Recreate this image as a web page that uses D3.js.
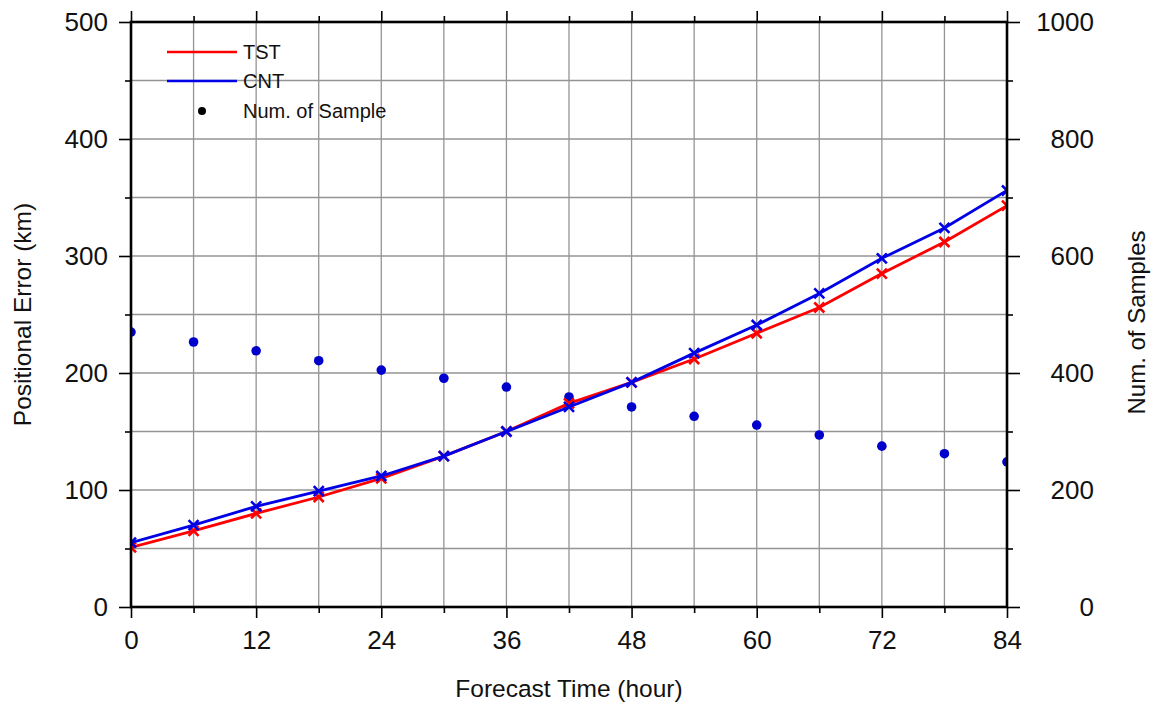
<!DOCTYPE html>
<html>
<head>
<meta charset="utf-8">
<script src="https://cdn.jsdelivr.net/npm/d3@7"></script>
<style>
  html, body { margin: 0; padding: 0; background: #fff; }
  svg { display: block; font-family: "Liberation Sans", Arial, Helvetica, sans-serif; }
</style>
</head>
<body>
<div id="chart"></div>
<script>
// Forecast hours and the two error series (km)
const forecastHours = [0, 6, 12, 18, 24, 30, 36, 42, 48, 54, 60, 66, 72, 78, 84];
const tstError = [51, 65, 80, 94, 110, 129, 150, 174, 192, 212, 234, 256, 285, 312, 343];
const cntError = [55, 70, 86, 99, 112, 129, 150, 171, 192, 217, 241, 268, 298, 324, 356];
const sampleCount = [470, 453, 438, 421, 405, 391, 376, 359, 342, 326, 311, 294, 275, 262, 248];

const xTicks = [0, 12, 24, 36, 48, 60, 72, 84];
const yTicks = [0, 100, 200, 300, 400, 500];
const y2Ticks = [0, 200, 400, 600, 800, 1000];

const seriesList = [
  { name: 'TST', values: tstError, color: '#ff0000' },
  { name: 'CNT', values: cntError, color: '#0000e6' }
];

/**
 * Line chart of positional error with sample counts on a second axis
 */
class ForecastErrorChart {
  constructor(containerId, options = {}) {
    this.containerId = containerId;
    this.options = {
      width: 1154,
      height: 707,
      left: 131,
      right: 1007,
      top: 22,
      bottom: 607,
      ...options
    };
    this.svg = null;
  }

  render() {
    const o = this.options;
    this.svg = d3.select(`#${this.containerId}`)
      .append('svg')
      .attr('width', o.width)
      .attr('height', o.height);

    const x = d3.scaleLinear().domain([0, 84]).range([o.left, o.right]);
    const y = d3.scaleLinear().domain([0, 500]).range([o.bottom, o.top]);
    const y2 = d3.scaleLinear().domain([0, 1000]).range([o.bottom, o.top]);

    this.svg.append('defs').append('clipPath')
      .attr('id', 'plot-clip')
      .append('rect')
      .attr('x', o.left)
      .attr('y', o.top)
      .attr('width', o.right - o.left)
      .attr('height', o.bottom - o.top);

    // Grid
    const grid = this.svg.append('g').attr('class', 'grid')
      .attr('stroke', '#949494')
      .attr('stroke-width', 1.3);
    grid.selectAll('line.gx')
      .data(d3.range(6, 84, 6))
      .enter().append('line')
      .attr('x1', d => x(d)).attr('x2', d => x(d))
      .attr('y1', o.top).attr('y2', o.bottom);
    grid.selectAll('line.gy')
      .data(d3.range(50, 500, 50))
      .enter().append('line')
      .attr('x1', o.left).attr('x2', o.right)
      .attr('y1', d => y(d)).attr('y2', d => y(d));

    // Sample counts (right axis)
    const plot = this.svg.append('g').attr('clip-path', 'url(#plot-clip)');
    plot.selectAll('circle.sample')
      .data(forecastHours.map((h, i) => ({ h, n: sampleCount[i] })))
      .enter().append('circle')
      .attr('class', 'sample')
      .attr('cx', d => x(d.h))
      .attr('cy', d => y2(d.n))
      .attr('r', 4.8)
      .attr('fill', '#0000cc');

    // Error lines with x markers
    const line = d3.line().x(d => x(d.h)).y(d => y(d.v));
    seriesList.forEach(s => {
      const pts = forecastHours.map((h, i) => ({ h, v: s.values[i] }));
      plot.append('path')
        .datum(pts)
        .attr('d', line)
        .attr('fill', 'none')
        .attr('stroke', s.color)
        .attr('stroke-width', 2.8);
      plot.selectAll(null)
        .data(pts)
        .enter().append('path')
        .attr('transform', d => `translate(${x(d.h)},${y(d.v)})`)
        .attr('d', 'M-5,-5L5,5M-5,5L5,-5')
        .attr('stroke', s.color)
        .attr('stroke-width', 2.6);
    });

    this.drawAxes(x, y, y2);
    this.drawLegend();
  }

  /**
   * Frame, ticks and tick labels on all four sides
   */
  drawAxes(x, y, y2) {
    const o = this.options;
    const tickFont = 26;

    const styleAxis = g => {
      g.select('.domain').remove();
      g.selectAll('.tick line').attr('stroke', '#000').attr('stroke-width', 1.6);
      g.selectAll('.tick text').attr('fill', '#111').attr('font-size', tickFont)
        .attr('font-family', '"Liberation Sans", Arial, Helvetica, sans-serif');
    };

    // minor ticks first, majors with labels on top
    this.svg.append('g')
      .attr('transform', `translate(0,${o.bottom})`)
      .call(d3.axisBottom(x).tickValues(d3.range(6, 84, 12)).tickSize(6).tickFormat(''))
      .call(styleAxis);
    this.svg.append('g')
      .attr('transform', `translate(0,${o.bottom})`)
      .call(d3.axisBottom(x).tickValues(xTicks).tickSize(11).tickPadding(13))
      .call(styleAxis);

    this.svg.append('g')
      .attr('transform', `translate(0,${o.top})`)
      .call(d3.axisTop(x).tickValues(d3.range(6, 84, 12)).tickSize(6).tickFormat(''))
      .call(styleAxis);
    this.svg.append('g')
      .attr('transform', `translate(0,${o.top})`)
      .call(d3.axisTop(x).tickValues(xTicks).tickSize(11).tickFormat(''))
      .call(styleAxis);

    this.svg.append('g')
      .attr('transform', `translate(${o.left},0)`)
      .call(d3.axisLeft(y).tickValues(d3.range(50, 500, 100)).tickSize(6).tickFormat(''))
      .call(styleAxis);
    this.svg.append('g')
      .attr('transform', `translate(${o.left},0)`)
      .call(d3.axisLeft(y).tickValues(yTicks).tickSize(12).tickPadding(11))
      .call(styleAxis);

    this.svg.append('g')
      .attr('transform', `translate(${o.right},0)`)
      .call(d3.axisRight(y2).tickValues(d3.range(100, 1000, 200)).tickSize(6).tickFormat(''))
      .call(styleAxis);
    const right = this.svg.append('g')
      .attr('transform', `translate(${o.right},0)`)
      .call(d3.axisRight(y2).tickValues(y2Ticks).tickSize(13).tickFormat(d3.format('d')))
      .call(styleAxis);
    // right labels are right-aligned in the reference
    right.selectAll('.tick text').attr('text-anchor', 'end').attr('x', 87);

    // Frame
    this.svg.append('rect')
      .attr('x', o.left).attr('y', o.top)
      .attr('width', o.right - o.left).attr('height', o.bottom - o.top)
      .attr('fill', 'none')
      .attr('stroke', '#000')
      .attr('stroke-width', 2.6);

    // Axis titles
    this.svg.append('text')
      .attr('x', (o.left + o.right) / 2)
      .attr('y', 697)
      .attr('text-anchor', 'middle')
      .attr('font-size', 24.5)
      .attr('fill', '#111')
      .text('Forecast Time (hour)');

    const midY = (o.top + o.bottom) / 2;
    this.svg.append('text')
      .attr('transform', `translate(31,${midY}) rotate(-90)`)
      .attr('text-anchor', 'middle')
      .attr('font-size', 24.5)
      .attr('fill', '#111')
      .text('Positional Error (km)');
    this.svg.append('text')
      .attr('transform', `translate(1145,${midY + 8}) rotate(-90)`)
      .attr('text-anchor', 'middle')
      .attr('font-size', 24)
      .attr('fill', '#111')
      .text('Num. of Samples');
  }

  drawLegend() {
    const g = this.svg.append('g').attr('class', 'legend');
    const items = [
      { label: seriesList[0].name, color: seriesList[0].color, type: 'line', y: 52 },
      { label: seriesList[1].name, color: seriesList[1].color, type: 'line', y: 81 },
      { label: 'Num. of Sample', color: '#000', type: 'dot', y: 111 }
    ];
    items.forEach(d => {
      if (d.type === 'line') {
        g.append('line')
          .attr('x1', 167).attr('x2', 237)
          .attr('y1', d.y).attr('y2', d.y)
          .attr('stroke', d.color)
          .attr('stroke-width', 2.6);
      } else {
        g.append('circle')
          .attr('cx', 202).attr('cy', d.y)
          .attr('r', 4)
          .attr('fill', d.color);
      }
      g.append('text')
        .attr('x', 243)
        .attr('y', d.y)
        .attr('dy', '0.35em')
        .attr('font-size', 20)
        .attr('fill', '#111')
        .text(d.label);
    });
  }
}

const chart = new ForecastErrorChart('chart');
chart.render();
</script>
</body>
</html>
